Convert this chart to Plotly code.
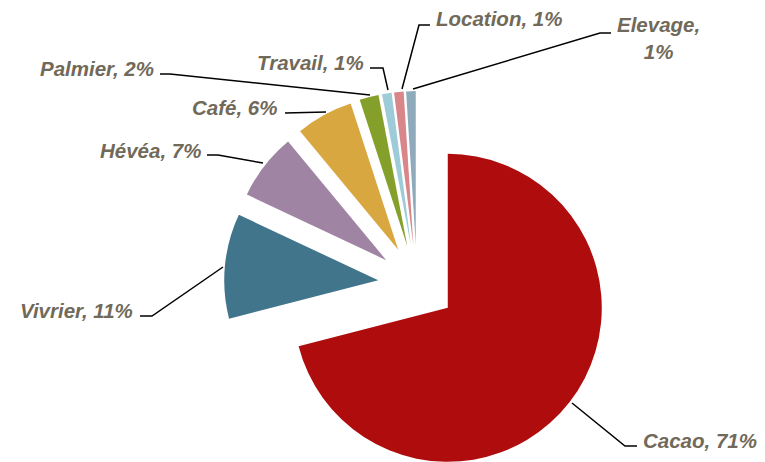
import math
import plotly.graph_objects as go

# ---- data ----
categories = ["Cacao", "Vivrier", "Hévéa", "Café", "Palmier", "Travail", "Location", "Elevage"]
values = [71, 11, 7, 6, 2, 1, 1, 1]
colors = ["#AF0D0D", "#41758C", "#9F85A3", "#D8A740", "#84A02A", "#9DCBD8", "#D8868A", "#8EAABB"]
label_texts = [f"{c}, {v}%" for c, v in zip(categories, values)]
label_texts[7] = "Elevage,<br>1%"

# ---- layout constants (pixels) ----
W, H = 765, 462
CX, CY = 417.0, 284.0      # pie centre before explosion
R = 154.0                  # radius
PULL = 39.2 / 155.0        # explosion as fraction of radius

def px(x):
    return x / W

def py(y):
    return 1 - y / H

fig = go.Figure()
total = sum(values)
cum = 0.0
for i, v in enumerate(values):
    mid = (cum + v / 2) / total * 2 * math.pi  # clockwise from 12 o'clock
    cum += v
    dx = math.sin(mid) * PULL * R
    dy = -math.cos(mid) * PULL * R
    cx, cy = CX + dx, CY + dy
    x0, x1 = (cx - R) / W, (cx + R) / W
    y0, y1 = 1 - (cy + R) / H, 1 - (cy - R) / H
    x0, x1 = max(0.0, x0), min(1.0, x1)
    y0, y1 = max(0.0, y0), min(1.0, y1)
    cols = ["rgba(0,0,0,0)"] * len(values)
    cols[i] = colors[i]
    fig.add_trace(go.Pie(
        labels=categories, values=values, sort=False, direction="clockwise",
        rotation=0, marker=dict(colors=cols, line=dict(width=0)),
        textinfo="none", hoverinfo="skip", showlegend=False,
        domain=dict(x=[x0, x1], y=[y0, y1]),
    ))

# label positions (x, y, xanchor) in pixels
label_pos = [
    (641, 440, "left"),
    (135, 310, "right"),
    (203, 150, "right"),
    (279, 107, "right"),
    (156, 68, "right"),
    (366, 63, "right"),
    (434, 18, "left"),
    (658, 38, "center"),
]
leaders = [
    [(572, 403), (625, 446), (637, 446)],
    [(140, 316), (152, 316), (223, 267)],
    [(207, 155), (218, 155), (263, 163)],
    [(285, 113), (326, 112)],
    [(160, 74), (170, 74), (370, 95)],
    [(370, 68), (383, 68), (388, 90)],
    [(430, 25), (419, 25), (402, 89)],
    [(611, 33), (600, 33), (413, 89)],
]

font = dict(family="Liberation Sans, Arial, sans-serif", size=20.5, color="#716959",
            weight="bold", style="italic")
annotations = []
for txt, (x, y, xa) in zip(label_texts, label_pos):
    annotations.append(dict(text=txt, x=px(x), y=py(y), xref="paper", yref="paper",
                            xanchor=xa, yanchor="middle", showarrow=False,
                            font=font, align="center"))
shapes = []
for pts in leaders:
    path = "M " + " L ".join(f"{px(a):.5f},{py(b):.5f}" for a, b in pts)
    shapes.append(dict(type="path", path=path, xref="paper", yref="paper",
                       line=dict(color="#000000", width=1.5)))

fig.update_layout(width=W, height=H, margin=dict(l=0, r=0, t=0, b=0),
                  paper_bgcolor="white", plot_bgcolor="white",
                  annotations=annotations, shapes=shapes)
fig.write_html("out.html")
